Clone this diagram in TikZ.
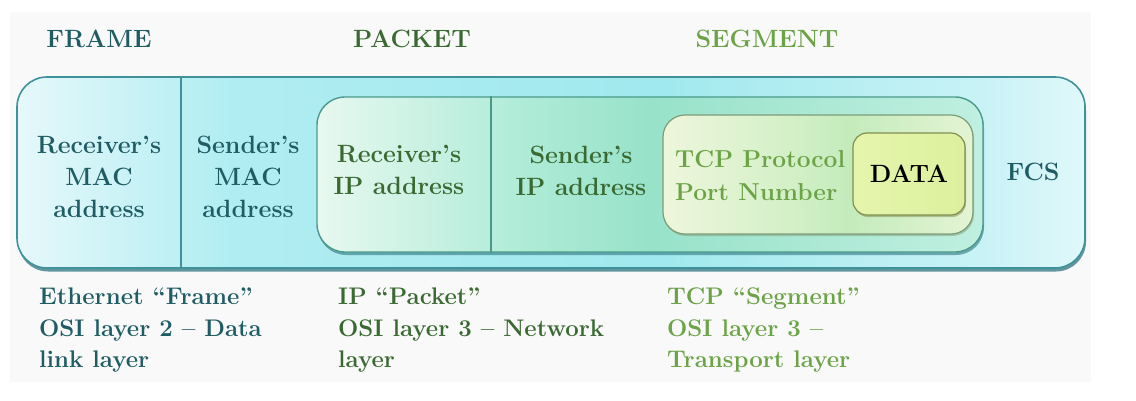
\documentclass[tikz,border=0pt]{standalone}
\usepackage{fontspec}
\usetikzlibrary{shadows}
\definecolor{bgC}{HTML}{F9F9F9}
\definecolor{frameC}{HTML}{1F5C64}
\definecolor{packC}{HTML}{3A6A32}
\definecolor{segC}{HTML}{6BA346}
\definecolor{oA}{HTML}{E6F8FA}
\definecolor{oB}{HTML}{B0EDF2}
\definecolor{oC}{HTML}{A0E9EE}
\definecolor{oD}{HTML}{C8F2F6}
\definecolor{oE}{HTML}{E0F8FA}
\definecolor{pA}{HTML}{E8F8F0}
\definecolor{pB}{HTML}{B0ECD8}
\definecolor{pC}{HTML}{98E2CA}
\definecolor{pD}{HTML}{C0EFE0}
\definecolor{sA}{HTML}{EEF6DC}
\definecolor{sB}{HTML}{D4F0C8}
\definecolor{sC}{HTML}{C4EBBC}
\definecolor{sD}{HTML}{E4F4D4}
\definecolor{dA}{HTML}{E6F5AC}
\definecolor{dB}{HTML}{DCF09E}
\definecolor{outerLine}{HTML}{3F929A}
\definecolor{packLine}{HTML}{4A9A8C}
\definecolor{segLine}{HTML}{7E9C78}
\definecolor{dataLine}{HTML}{808F50}
\definecolor{shadowC}{HTML}{2F7680}
\pgfdeclarehorizontalshading{outershade}{100bp}{color(0bp)=(oA); color(25bp)=(oA); color(35bp)=(oB); color(55bp)=(oC); color(70bp)=(oD); color(75bp)=(oE); color(100bp)=(oE)}
\pgfdeclarehorizontalshading{packshade}{100bp}{color(0bp)=(pA); color(25bp)=(pA); color(40bp)=(pB); color(50bp)=(pC); color(75bp)=(pD); color(100bp)=(pD)}
\pgfdeclarehorizontalshading{segshade}{100bp}{color(0bp)=(sA); color(25bp)=(sA); color(45bp)=(sB); color(55bp)=(sC); color(75bp)=(sD); color(100bp)=(sD)}
\pgfdeclarehorizontalshading{datashade}{100bp}{color(0bp)=(dA); color(25bp)=(dA); color(75bp)=(dB); color(100bp)=(dB)}
\begin{document}
\begin{tikzpicture}[x=1pt,y=-1pt,
  box/.style={rectangle, inner sep=0pt, shade},
  outerbox/.style={box, shading=outershade, draw=outerLine, line width=1.6pt, rounded corners=30pt,
    drop shadow={shadow xshift=1pt, shadow yshift=-3.5pt, fill=shadowC, opacity=0.75}},
  packbox/.style={box, shading=packshade, draw=packLine, line width=1.4pt, rounded corners=28pt,
    drop shadow={shadow xshift=1pt, shadow yshift=-3pt, fill=shadowC, opacity=0.6}},
  segbox/.style={box, shading=segshade, draw=segLine, line width=1.2pt, rounded corners=22pt,
    drop shadow={shadow xshift=1pt, shadow yshift=-2pt, fill=segLine, opacity=0.5}},
  databox/.style={box, shading=datashade, draw=dataLine, line width=1.2pt, rounded corners=14pt,
    drop shadow={shadow xshift=1pt, shadow yshift=-2pt, fill=dataLine, opacity=0.5}},
  txt/.style={inner sep=0pt, font=\fontsize{25}{32}\selectfont\bfseries, align=center},
  head/.style={inner sep=0pt, font=\fontsize{25}{30}\selectfont\bfseries},
  note/.style={inner sep=0pt, font=\fontsize{24}{31.5}\selectfont\bfseries, align=left, anchor=north west}]
\useasboundingbox (0,0) rectangle (1136,400);
\fill[bgC] (10,12) rectangle (1091,382);
% headers
\node[head, text=frameC] (hframe) at (99,39) {FRAME};
\node[head, text=packC] (hpacket) at (412,39) {PACKET};
\node[head, text=segC] (hsegment) at (767,39) {SEGMENT};
% boxes
\node[outerbox, minimum width=1068pt, minimum height=191pt] (frame) at (551,172.5) {};
\coordinate (d1) at (181,0);
\draw[outerLine, line width=1.2pt] (frame.north -| d1) -- (frame.south -| d1);
\node[packbox, minimum width=666pt, minimum height=155pt] (packet) at (650,174.5) {};
\coordinate (d2) at (491,0);
\draw[packLine, line width=1.1pt] (packet.north -| d2) -- (packet.south -| d2);
\node[segbox, minimum width=310pt, minimum height=119pt] (segment) at (818,174.5) {};
\node[databox, minimum width=112pt, minimum height=82pt] (data) at (909,174) {};
% texts in boxes
\node[txt, text=frameC, anchor=north] (rmac) at (99,136) {Receiver’s\\MAC\\address};
\node[txt, text=frameC, anchor=north] (smac) at (248,136) {Sender’s\\MAC\\address};
\node[txt, text=packC, anchor=north] (rip) at (399,145) {Receiver’s\\IP address};
\node[txt, text=packC, anchor=north] (sip) at (581,146) {Sender’s\\IP address};
\node[txt, text=segC, anchor=north west, align=left, font=\fontsize{24.5}{33}\selectfont\bfseries] (tcp) at (675,150) {TCP Protocol\\Port Number};
\node[txt, text=black] (dtext) at (data.center) {DATA};
\node[txt, text=frameC] (fcs) at (1033,172) {FCS};
% bottom notes
\node[note, text=frameC] (n1) at (39,288) {Ethernet “Frame”\\OSI layer 2 – Data\\link layer};
\node[note, text=packC] (n2) at (338,288) {IP “Packet”\\OSI layer 3 – Network\\layer};
\node[note, text=segC] (n3) at (667,288) {TCP “Segment”\\OSI layer 3 –\\Transport layer};
\end{tikzpicture}
\end{document}
